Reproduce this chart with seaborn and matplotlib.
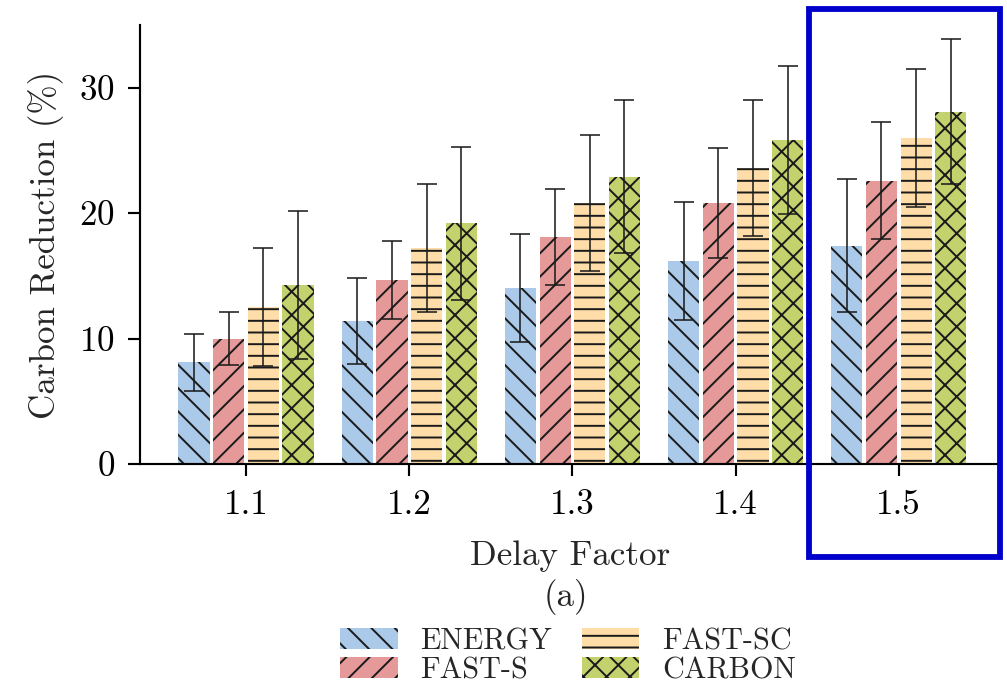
import matplotlib.pyplot as plt
import seaborn as sns
import pandas as pd
from matplotlib.patches import Patch, Rectangle

# values
delay_factors = ['1.1', '1.2', '1.3', '1.4', '1.5']
methods = ['ENERGY', 'FAST-S', 'FAST-SC', 'CARBON']

energy = [8.1, 11.4, 14.0, 16.2, 17.4]
energy_err = [2.3, 3.4, 4.3, 4.7, 5.3]
fast_s = [10.0, 14.7, 18.1, 20.8, 22.6]
fast_s_err = [2.1, 3.1, 3.8, 4.4, 4.7]
fast_sc = [12.5, 17.2, 20.8, 23.6, 26.0]
fast_sc_err = [4.7, 5.1, 5.4, 5.4, 5.5]
carbon = [14.3, 19.2, 22.9, 25.8, 28.1]
carbon_err = [5.9, 6.1, 6.1, 5.9, 5.8]

colors = ['#abc9e8', '#e69999', '#fedda9', '#c3d26c']
hatches = ['\\\\', '//', '--', 'xx']

df = pd.DataFrame({
    'Delay Factor': delay_factors * 4,
    'Method': [m for m in methods for _ in delay_factors],
    'Reduction': energy + fast_s + fast_sc + carbon,
})
errors = [energy_err, fast_s_err, fast_sc_err, carbon_err]

sns.set_style('ticks')
plt.rcParams['font.family'] = ['cmr10', 'DejaVu Serif']
plt.rcParams['mathtext.fontset'] = 'cm'
plt.rcParams['axes.formatter.use_mathtext'] = True
plt.rcParams['hatch.linewidth'] = 1.0

DPI = 140
fig = plt.figure(figsize=(1007 / DPI, 687 / DPI), dpi=DPI)
ax = fig.add_axes([140 / 1007, 1 - 464 / 687, 860 / 1007, 439 / 687])

sns.barplot(data=df, x='Delay Factor', y='Reduction', hue='Method',
            hue_order=methods, palette=colors, saturation=1,
            width=0.85, gap=0.1, errorbar=None, edgecolor='#1a1a1a',
            linewidth=0, legend=False, ax=ax)

# hatches + error bars per method
for cont, hatch, err in zip(ax.containers, hatches, errors):
    xs, ys = [], []
    for bar in cont:
        bar.set_hatch(hatch)
        xs.append(bar.get_x() + bar.get_width() / 2)
        ys.append(bar.get_height())
    ax.errorbar(xs, ys, yerr=err, fmt='none', ecolor='#1a1a1a',
                elinewidth=0.8, capsize=5, capthick=0.8, zorder=5)

ax.set_xlim(-0.65, 4.62)
ax.set_ylim(0, 35)
ax.set_yticks([0, 10, 20, 30])
sns.despine(ax=ax)
for side in ['left', 'bottom']:
    ax.spines[side].set_linewidth(1.1)
    ax.spines[side].set_color('black')
ax.tick_params(direction='out', length=6, width=1.1, labelsize=18,
               colors='black', pad=7)
ax.set_xlabel('Delay Factor', fontsize=18, labelpad=10)
ax.set_ylabel('Carbon Reduction (%)', fontsize=18, labelpad=8)

fig.text(566 / 1007, 1 - 597 / 687, '(a)', fontsize=18,
         ha='center', va='center')

# highlight box around the 1.5 group
ax.add_patch(Rectangle((3.45, -7.44), 1.17, 43.7, fill=False,
                       edgecolor='#0000cc', linewidth=3, clip_on=False,
                       zorder=10))

handles = [Patch(facecolor=c, hatch=h, edgecolor='#1a1a1a', linewidth=0,
                 label=m) for c, h, m in zip(colors, hatches, methods)]
fig.legend(handles=handles, loc='center',
           bbox_to_anchor=(568 / 1007, 1 - 656 / 687), ncol=2,
           frameon=False, fontsize=15.5, handlelength=1.9, handleheight=0.67,
           handletextpad=0.75, columnspacing=1.0, labelspacing=0.05,
           borderpad=0.2)

fig.savefig('out.png', dpi=DPI)
